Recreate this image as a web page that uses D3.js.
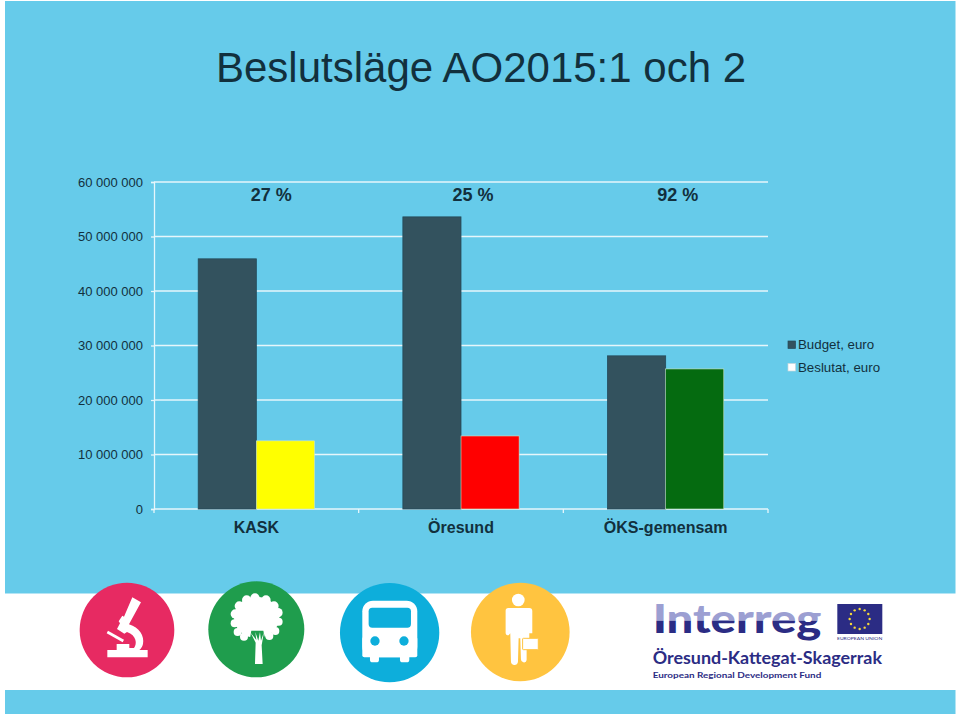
<!DOCTYPE html>
<html>
<head>
<meta charset="utf-8">
<script src="https://cdn.jsdelivr.net/npm/d3@7"></script>
<style>
  html, body { margin: 0; padding: 0; background: #fff; }
  svg { display: block; }
  text { font-family: "Liberation Sans", Arial, sans-serif; fill: #12303d; }
</style>
</head>
<body>
<svg id="chart"></svg>
<script>
const categories = ['KASK', 'Öresund', 'ÖKS-gemensam'];
const seriesNames = ['Budget, euro', 'Beslutat, euro'];
const budget = [45900000, 53600000, 28100000];
const decided = [12500000, 13400000, 25700000];
const decidedColors = ['#ffff00', '#ff0000', '#056b10'];
const percentLabels = ['27 %', '25 %', '92 %'];
const yTicks = [0, 10000000, 20000000, 30000000, 40000000, 50000000, 60000000];

const width = 960;
const height = 716;
const margin = { top: 182, right: 192, bottom: 207, left: 154 };
const darkBar = '#33525e';
const gridColor = '#e6f6fb';

const svg = d3.select('#chart').attr('width', width).attr('height', height);

// page background, blue with the white logo strip
svg.append('rect').attr('x', 5).attr('y', 1).attr('width', 950.5).attr('height', 713).attr('fill', '#66cbea');
svg.append('rect').attr('x', 0).attr('y', 593.5).attr('width', width).attr('height', 96.5).attr('fill', '#fff');

svg.append('text')
  .attr('x', 216).attr('y', 82)
  .style('font-size', '42px')
  .text('Beslutsläge AO2015:1 och 2');

const x = d3.scaleBand()
  .domain(categories)
  .range([margin.left, width - margin.right]);

const xInner = d3.scaleBand()
  .domain(seriesNames)
  .range([x.bandwidth() * 0.216, x.bandwidth() * 0.784]);

const y = d3.scaleLinear()
  .domain([0, 60000000])
  .range([height - margin.bottom, margin.top]);

const formatTick = (d) => d3.format(',')(d).replace(/,/g, ' ');

// y axis + gridlines
const yAxis = d3.axisLeft(y)
  .tickValues(yTicks)
  .tickFormat(formatTick)
  .tickSize(3)
  .tickPadding(8);

const yG = svg.append('g')
  .attr('transform', `translate(${margin.left},0)`)
  .call(yAxis);
yG.select('.domain').attr('stroke', gridColor).attr('stroke-width', 1.3);
yG.selectAll('.tick line').attr('stroke', gridColor).attr('stroke-width', 1.3);
yG.selectAll('.tick text').style('font-size', '13px').style('font-family', '"Liberation Sans"').attr('fill', '#12303d');

svg.append('g')
  .selectAll('line')
  .data(yTicks)
  .enter()
  .append('line')
  .attr('x1', margin.left)
  .attr('x2', width - margin.right)
  .attr('y1', (d) => y(d))
  .attr('y2', (d) => y(d))
  .attr('stroke', gridColor)
  .attr('stroke-width', 1.3);

// x axis ticks sit on the band edges
const bandEdges = categories.map((c) => x(c)).concat(width - margin.right);
svg.append('g')
  .selectAll('line')
  .data(bandEdges)
  .enter()
  .append('line')
  .attr('x1', (d) => d)
  .attr('x2', (d) => d)
  .attr('y1', y(0))
  .attr('y2', y(0) + 4)
  .attr('stroke', gridColor)
  .attr('stroke-width', 1.3);

const xAxis = d3.axisBottom(x).tickSize(0).tickPadding(13);
const xG = svg.append('g')
  .attr('transform', `translate(0,${y(0)})`)
  .call(xAxis);
xG.select('.domain').remove();
xG.selectAll('.tick text')
  .style('font-size', '16px')
  .style('font-weight', 'bold')
  .style('font-family', '"Liberation Sans"')
  .attr('fill', '#12303d');

// bars
svg.append('g')
  .selectAll('rect')
  .data(budget)
  .enter()
  .append('rect')
  .attr('x', (d, i) => x(categories[i]) + xInner(seriesNames[0]))
  .attr('y', (d) => y(d))
  .attr('width', xInner.bandwidth())
  .attr('height', (d) => y(0) - y(d))
  .attr('fill', darkBar)
  .attr('stroke', '#234a5a')
  .attr('stroke-width', 0.8);

svg.append('g')
  .selectAll('rect')
  .data(decided)
  .enter()
  .append('rect')
  .attr('x', (d, i) => x(categories[i]) + xInner(seriesNames[1]))
  .attr('y', (d) => y(d))
  .attr('width', xInner.bandwidth())
  .attr('height', (d) => y(0) - y(d))
  .attr('fill', (d, i) => decidedColors[i])
  .attr('stroke', '#cfe6c8')
  .attr('stroke-width', 0.6);

// percent labels above the groups
svg.append('g')
  .selectAll('text')
  .data(percentLabels)
  .enter()
  .append('text')
  .attr('x', (d, i) => x(categories[i]) + x.bandwidth() / 2 + (i === 0 ? 15 : 12))
  .attr('y', 201)
  .attr('text-anchor', 'middle')
  .style('font-size', '18px')
  .style('font-weight', 'bold')
  .text((d) => d);

// legend
const legend = svg.append('g')
  .selectAll('g')
  .data(seriesNames)
  .enter()
  .append('g')
  .attr('transform', (d, i) => `translate(788,${341 + i * 22.5})`);
legend.append('rect')
  .attr('width', 7.5)
  .attr('height', 7.5)
  .attr('fill', (d, i) => (i === 0 ? darkBar : '#fff'))
  .attr('stroke', (d, i) => (i === 0 ? '#234a5a' : '#c9d6da'))
  .attr('stroke-width', 0.7);
legend.append('text')
  .attr('x', 10)
  .attr('y', 8)
  .style('font-size', '13.3px')
  .text((d) => d);

// theme icons, drawn in 3x crop units
const iconLayer = svg.append('g').attr('transform', 'translate(60,570) scale(0.3333)');

const scope = iconLayer.append('g');
scope.append('circle').attr('cx', 201).attr('cy', 180).attr('r', 142).attr('fill', '#e72a62');
scope.append('path').attr('fill', '#fff')
  .attr('d', 'M217 82 L243 97 L207 163 C238 172 254 198 249 222 C247 231 243 236 238 240 L263 240 L263 262 L142 262 L142 240 L170 240 L170 222 L208 222 L208 234 L222 234 C232 222 230 196 201 186 L193 191 L171 177 L180 160 L176 154 L187 137 L192 140 Z');
scope.append('line').attr('x1', 142).attr('y1', 186).attr('x2', 190).attr('y2', 213)
  .attr('stroke', '#fff').attr('stroke-width', 8);

const tree = iconLayer.append('g');
tree.append('circle').attr('cx', 589).attr('cy', 178).attr('r', 144).attr('fill', '#1f9d4d');
tree.append('ellipse').attr('cx', 590).attr('cy', 142).attr('rx', 68).attr('ry', 62).attr('fill', '#fff');
const crownX = [585, 560, 618, 538, 642, 526, 654, 524, 656, 533, 646, 552, 628];
const crownY = [84, 90, 90, 108, 108, 132, 128, 160, 155, 186, 183, 200, 198];
const crownR = [14, 14, 14, 14, 14, 14, 14, 12, 12, 12, 12, 12, 12];
tree.selectAll('circle.crown')
  .data(crownX)
  .enter()
  .append('circle')
  .attr('class', 'crown')
  .attr('cx', (d) => d)
  .attr('cy', (d, i) => crownY[i])
  .attr('r', (d, i) => crownR[i])
  .attr('fill', '#fff');
// notch under the crown where the trunk forks
tree.append('path').attr('fill', '#1f9d4d')
  .attr('d', 'M568 216 L574 182 L610 182 L618 216 Z');
tree.append('path').attr('fill', '#fff')
  .attr('d', 'M572 188 L587 218 L585 282 L608 282 L605 226 L612 186 L603 212 L600 186 L595 212 L586 186 L589 210 Z');

// second crop starts 270 page px further right, so 810 units
const bus = iconLayer.append('g').attr('transform', 'translate(810,0)');
bus.append('circle').attr('cx', 179).attr('cy', 188).attr('r', 149).attr('fill', '#0daedb');
bus.append('rect').attr('x', 97).attr('y', 92).attr('width', 165).attr('height', 170).attr('rx', 32).attr('fill', '#fff');
bus.append('rect').attr('x', 97).attr('y', 200).attr('width', 165).attr('height', 62).attr('rx', 6).attr('fill', '#fff');
bus.append('rect').attr('x', 116).attr('y', 113).attr('width', 127).attr('height', 60).attr('rx', 11).attr('fill', '#0daedb');
bus.append('circle').attr('cx', 135).attr('cy', 213).attr('r', 14).attr('fill', '#0daedb');
bus.append('circle').attr('cx', 222).attr('cy', 213).attr('r', 14).attr('fill', '#0daedb');
bus.append('rect').attr('x', 120).attr('y', 250).attr('width', 27).attr('height', 27).attr('rx', 8).attr('fill', '#fff');
bus.append('rect').attr('x', 210).attr('y', 250).attr('width', 28).attr('height', 27).attr('rx', 8).attr('fill', '#fff');

const person = iconLayer.append('g').attr('transform', 'translate(810,0)');
person.append('circle').attr('cx', 571).attr('cy', 186).attr('r', 148).attr('fill', '#ffc440');
person.append('circle').attr('cx', 565).attr('cy', 90).attr('r', 19).attr('fill', '#fff');
person.append('path').attr('fill', '#fff')
  .attr('d', 'M535 114 L598 114 Q607 114 607 123 L607 190 L598 190 L598 205 L590 205 L590 270 Q589 279 580 277 Q573 276 573 268 L571 205 L566 205 L564 276 Q562 286 552 285 Q543 284 543 274 L541 190 L536 196 Q527 196 527 188 L527 122 Q527 114 535 114 Z');
person.append('rect').attr('x', 578).attr('y', 205).attr('width', 47).attr('height', 34).attr('rx', 2)
  .attr('fill', '#fff').attr('stroke', '#ffc440').attr('stroke-width', 3);

// Interreg logo, also in 3x crop units
const logo = svg.append('g').attr('transform', 'translate(640,590) scale(0.3333)');
const logoDark = '#2b2c84';
const logoLight = '#9c9fd2';

const defs = svg.append('defs');
defs.append('clipPath').attr('id', 'logoTop').append('rect').attr('x', 0).attr('y', 0).attr('width', 560).attr('height', 92);
defs.append('clipPath').attr('id', 'logoBottom').append('rect').attr('x', 0).attr('y', 92).attr('width', 560).attr('height', 80);

['logoTop', 'logoBottom'].forEach((id, i) => {
  logo.append('g').attr('clip-path', `url(#${id})`)
    .append('text')
    .attr('x', 38).attr('y', 128)
    .attr('textLength', 506)
    .attr('lengthAdjust', 'spacingAndGlyphs')
    .style('font-family', 'Lato')
    .style('font-weight', 900)
    .style('font-size', '122px')
    .style('fill', i === 0 ? logoLight : logoDark)
    .text('Interreg');
});

logo.append('rect').attr('x', 592).attr('y', 42).attr('width', 135).attr('height', 90).attr('fill', logoDark);
const starAngles = d3.range(12).map((i) => (i * Math.PI) / 6);
logo.selectAll('circle.star')
  .data(starAngles)
  .enter()
  .append('circle')
  .attr('class', 'star')
  .attr('cx', (d) => 659 + 30 * Math.cos(d))
  .attr('cy', (d) => 87 + 30 * Math.sin(d))
  .attr('r', 3.6)
  .attr('fill', '#f5d93a');

logo.append('text')
  .attr('x', 659).attr('y', 151)
  .attr('text-anchor', 'middle')
  .attr('textLength', 136)
  .attr('lengthAdjust', 'spacingAndGlyphs')
  .style('font-family', 'Lato')
  .style('font-size', '13px')
  .style('fill', logoDark)
  .text('EUROPEAN UNION');

logo.append('text')
  .attr('x', 38).attr('y', 222)
  .attr('textLength', 688)
  .attr('lengthAdjust', 'spacingAndGlyphs')
  .style('font-family', 'Lato')
  .style('font-weight', 700)
  .style('font-size', '50px')
  .style('fill', logoDark)
  .text('Öresund-Kattegat-Skagerrak');

logo.append('text')
  .attr('x', 38).attr('y', 265)
  .attr('textLength', 506)
  .attr('lengthAdjust', 'spacingAndGlyphs')
  .style('font-family', 'Lato')
  .style('font-weight', 700)
  .style('font-size', '25px')
  .style('fill', logoDark)
  .text('European Regional Development Fund');
</script>
</body>
</html>
